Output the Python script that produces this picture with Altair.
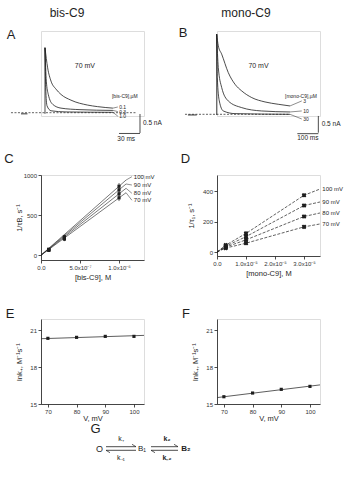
import altair as alt
import pandas as pd

FONT = "Liberation Sans"
INK = "#1e1e1e"
LAB = "#333333"

# ---------------- data ----------------
# Panel A: bis-C9 traces at 70 mV (time in ms, current in nA)
A_peak = 1.71
A_t_01 = [0, 3.8, 8.6, 15.7, 22.9, 37.1, 61.0, 75.0, 97.0]
A_i_01 = [1.71, 1.18, 0.83, 0.62, 0.48, 0.33, 0.20, 0.16, 0.12]
A_t_03 = [0, 1.9, 4.7, 11.0, 22.9, 50.0, 97.0]
A_i_03 = [1.71, 0.83, 0.48, 0.22, 0.12, 0.08, 0.06]
A_t_10 = [0, 1.0, 2.9, 8.6, 30.0, 97.0]
A_i_10 = [1.71, 0.66, 0.18, 0.05, 0.02, 0.01]
A_labels = ["0.1", "0.3", "1.0"]
A_label_i = [0.15, 0.03, -0.09]

# Panel B: mono-C9 traces at 70 mV
B_peak = 2.40
B_t_3 = [0, 7.6, 23.8, 55, 87, 119, 167, 230, 293, 349]
B_i_3 = [2.40, 2.05, 1.80, 1.25, 0.90, 0.70, 0.50, 0.37, 0.30, 0.25]
B_t_10 = [0, 7.6, 23.8, 55, 119, 214, 349]
B_i_10 = [2.40, 1.40, 0.80, 0.40, 0.20, 0.10, 0.07]
B_t_30 = [0, 2.9, 12.4, 31.4, 87, 349]
B_i_30 = [2.40, 1.10, 0.40, 0.10, 0.02, 0.00]
B_labels = ["3", "10", "30"]
B_label_i = [0.40, 0.10, -0.14]

# Panel C: 1/tau_B vs [bis-C9]
volts = [70, 80, 90, 100]
C_conc = [1e-7, 3e-7, 1e-6]
C_rate = {70: [60, 200, 715], 80: [65, 210, 765], 90: [70, 220, 815], 100: [75, 230, 860]}
C_err = [8, 25, 40]
C_fit_x = 1.09e-6
C_fit_end = {70: 779, 80: 834, 90: 888, 100: 937}
C_label_y = {70: 685, 80: 772, 90: 875, 100: 979}

# Panel D: 1/tau_1 vs [mono-C9]
D_conc = [3e-6, 1e-5, 3e-5]
D_rate = {70: [26, 58, 165], 80: [32, 80, 233], 90: [38, 101, 305], 100: [45, 122, 372]}
D_label_y = {70: 184, 80: 256, 90: 328, 100: 413}

# Panels E, F: ln k+ vs V
V = [70, 80, 90, 100]
E_lnk = [20.33, 20.41, 20.49, 20.49]
F_lnk = [15.59, 15.89, 16.19, 16.43]
fit_V = [67.6, 103.5]
E_fit = [20.30, 20.57]
F_fit = [15.52, 16.55]


# ---------------- helpers ----------------
def note(text, x, y, size=6.0, align="center", weight="normal", color=INK):
    return alt.Chart(alt.Data(values=[{"a": 0}])).mark_text(
        text=text, font=FONT, fontSize=size, align=align, baseline="middle",
        color=color, fontWeight=weight).encode(x=alt.value(x), y=alt.value(y))


def seg(x1, y1, x2, y2, w=0.8):
    return alt.Chart(alt.Data(values=[{"a": 0}])).mark_rule(
        color=INK, strokeWidth=w).encode(
        x=alt.value(x1), y=alt.value(y1), x2=alt.value(x2), y2=alt.value(y2))


def dtext(xe, ye, t, i, s, size=6.0, align="center"):
    return alt.Chart(pd.DataFrame({xe.shorthand.split(":")[0]: [t],
                                   ye.shorthand.split(":")[0]: [i], "s": [s]})).mark_text(
        font=FONT, fontSize=size, align=align, baseline="middle", color=INK).encode(
        x=xe, y=ye, text="s:N")


def axis(values, title, tx, ty, expr=None, angle=0):
    args = dict(values=values, title=title, titleX=tx, titleY=ty,
                titleAngle=angle, titleAlign="center", titleBaseline="middle",
                titleFont=FONT, titleFontSize=7.5, titleFontWeight="normal", titleColor=INK,
                labelFont=FONT, labelFontSize=6, labelColor=LAB, labelPadding=1.5,
                domainColor=INK, domainWidth=0.8, tickColor=INK, tickWidth=0.8,
                tickSize=3, grid=False, labelFlush=False, labelOverlap=False)
    if expr:
        args["labelExpr"] = expr
    return alt.Axis(**args)


def frame(ts, vals, label):
    return pd.DataFrame({"t": ts, "i": vals, "c": label, "k": list(range(len(ts)))})


PW = 103
PH = 85

# ---------------- Panel A ----------------
A_xdom = [-5.71, 141.43]
A_ydom = [-0.087, 2.15]
xA = alt.X("t:Q", scale=alt.Scale(domain=A_xdom, nice=False, zero=False), axis=None)
yA = alt.Y("i:Q", scale=alt.Scale(domain=A_ydom, nice=False, zero=False), axis=None)

A_tr = pd.concat([frame(A_t_01, A_i_01, "0.1"), frame(A_t_03, A_i_03, "0.3"),
                  frame(A_t_10, A_i_10, "1.0")])
A_end = pd.DataFrame({"t": [A_t_01[-1], A_t_03[-1], A_t_10[-1]],
                      "i": [A_i_01[-1], A_i_03[-1], A_i_10[-1]],
                      "t2": [104] * 3, "i2": A_label_i})
A_lab = pd.DataFrame({"t": [106] * 3, "i": A_label_i, "lab": A_labels})

A = alt.layer(
    alt.Chart(pd.DataFrame({"t": [-48.6, 130], "i": [0, 0]})).mark_line(
        color=INK, strokeWidth=0.7, strokeDash=[2, 1.5]).encode(x=xA, y=yA),
    alt.Chart(pd.DataFrame({"t": [-34.3, -25.0], "i": [-0.03, -0.03]})).mark_line(
        color=INK, strokeWidth=0.9).encode(x=xA, y=yA),
    alt.Chart(pd.DataFrame({"t": [0], "i": [-0.03], "i2": [A_peak]})).mark_rule(
        color=INK, strokeWidth=0.8).encode(x=xA, y=yA, y2="i2:Q"),
    alt.Chart(A_tr).mark_line(color=INK, strokeWidth=0.8, interpolate="monotone").encode(
        x=xA, y=yA, detail="c:N", order="k:Q"),
    alt.Chart(A_end).mark_rule(color=INK, strokeWidth=0.5).encode(
        x=xA, y=yA, x2="t2:Q", y2="i2:Q"),
    alt.Chart(A_lab).mark_text(font=FONT, fontSize=5, align="left", color=INK).encode(
        x=xA, y=yA, text="lab:N"),
    # scale bars: 0.5 nA and 30 ms
    alt.Chart(pd.DataFrame({"t": [135.7], "i": [-0.034], "i2": [-0.534]})).mark_rule(
        color=INK, strokeWidth=0.8).encode(x=xA, y=yA, y2="i2:Q"),
    alt.Chart(pd.DataFrame({"t": [105.7], "t2": [135.7], "i": [-0.547]})).mark_rule(
        color=INK, strokeWidth=0.8).encode(x=xA, x2="t2:Q", y=yA),
    dtext(xA, yA, 57, 1.23, "70 mV", 7),
    dtext(xA, yA, 114, 0.44, "[bis-C9],\u00b5M", 5),
    dtext(xA, yA, 140, -0.27, "0.5 nA", 6.5, "left"),
    dtext(xA, yA, 116, -0.69, "30 ms", 6.5),
    note("bis-C9", 26, -18, size=12),
    note("A", -30, 4, size=13),
).properties(width=PW, height=PH)

# ---------------- Panel B ----------------
B_xdom = [1.43, 491.9]
B_ydom = [-0.051, 2.494]
xB = alt.X("t:Q", scale=alt.Scale(domain=B_xdom, nice=False, zero=False), axis=None)
yB = alt.Y("i:Q", scale=alt.Scale(domain=B_ydom, nice=False, zero=False), axis=None)
B_tr = pd.concat([frame(B_t_3, B_i_3, "3"), frame(B_t_10, B_i_10, "10"),
                  frame(B_t_30, B_i_30, "30")])
B_end = pd.DataFrame({"t": [B_t_3[-1], B_t_10[-1], B_t_30[-1]],
                      "i": [B_i_3[-1], B_i_10[-1], B_i_30[-1]],
                      "t2": [405] * 3, "i2": B_label_i})
B_lab = pd.DataFrame({"t": [412] * 3, "i": B_label_i, "lab": B_labels})
B = alt.layer(
    alt.Chart(pd.DataFrame({"t": [-151, 349], "i": [0, 0]})).mark_line(
        color=INK, strokeWidth=0.7, strokeDash=[2, 1.5]).encode(x=xB, y=yB),
    alt.Chart(pd.DataFrame({"t": [-137, -95], "i": [-0.02, -0.02]})).mark_line(
        color=INK, strokeWidth=0.9).encode(x=xB, y=yB),
    alt.Chart(pd.DataFrame({"t": [0], "i": [-0.02], "i2": [B_peak]})).mark_rule(
        color=INK, strokeWidth=0.8).encode(x=xB, y=yB, y2="i2:Q"),
    alt.Chart(B_tr).mark_line(color=INK, strokeWidth=0.8, interpolate="monotone").encode(
        x=xB, y=yB, detail="c:N", order="k:Q"),
    alt.Chart(B_end).mark_rule(color=INK, strokeWidth=0.5).encode(
        x=xB, y=yB, x2="t2:Q", y2="i2:Q"),
    alt.Chart(B_lab).mark_text(font=FONT, fontSize=5, align="left", color=INK).encode(
        x=xB, y=yB, text="lab:N"),
    alt.Chart(pd.DataFrame({"t": [484], "i": [-0.05], "i2": [-0.55]})).mark_rule(
        color=INK, strokeWidth=0.8).encode(x=xB, y=yB, y2="i2:Q"),
    alt.Chart(pd.DataFrame({"t": [384], "t2": [484], "i": [-0.58]})).mark_rule(
        color=INK, strokeWidth=0.8).encode(x=xB, x2="t2:Q", y=yB),
    dtext(xB, yB, 199, 1.45, "70 mV", 7),
    dtext(xB, yB, 401, 0.55, "[mono-C9],\u00b5M", 5),
    dtext(xB, yB, 500, -0.30, "0.5 nA", 6.5, "left"),
    dtext(xB, yB, 434, -0.71, "100 ms", 6.5),
    note("mono-C9", 29, -18, size=12),
    note("B", -34, 2, size=13),
).properties(width=PW, height=PH)

# ---------------- Panel C ----------------
HC = 85
C_xdom = [0, 1.32e-6]
C_ydom = [-60, 1000]
xC = alt.X("c:Q", scale=alt.Scale(domain=C_xdom, nice=False, zero=False),
           axis=axis([0, 5e-7, 1e-6], "[bis-C9], M", PW / 2, 17,
                     expr="datum.value < 1e-9 ? '0.0' : (datum.value < 7e-7 ? '5.0x10\u207b\u2077' : '1.0x10\u207b\u2076')"))
yC = alt.Y("r:Q", scale=alt.Scale(domain=C_ydom, nice=False, zero=False),
           axis=axis([0, 500, 1000], "1/\u03c4B, s\u207b\u00b9", -22, HC / 2, angle=-90,
                     expr="format(datum.value, 'd')"))

C_pts = pd.DataFrame([{"v": v, "c": c, "r": C_rate[v][j]} for v in volts for j, c in enumerate(C_conc)])
C_bars = pd.DataFrame([{"v": v, "c": c, "r": C_rate[v][j] - C_err[j], "r2": C_rate[v][j] + C_err[j]}
                       for v in volts for j, c in enumerate(C_conc)])
C_lines = pd.DataFrame([{"v": v, "c": x, "r": r} for v in volts
                        for x, r in [(0, 0), (C_fit_x, C_fit_end[v])]])
C_lead = pd.DataFrame([{"v": v, "c": C_fit_x, "r": C_fit_end[v], "c2": 1.165e-6,
                        "r2": C_label_y[v]} for v in volts])
C_lab = pd.DataFrame([{"c": 1.19e-6, "r": C_label_y[v], "lab": f"{v} mV"} for v in volts])
C = alt.layer(
    alt.Chart(C_lines).mark_line(color=INK, strokeWidth=0.6).encode(x=xC, y=yC, detail="v:N"),
    alt.Chart(C_bars).mark_rule(color=INK, strokeWidth=0.7).encode(x=xC, y=yC, y2="r2:Q"),
    alt.Chart(C_pts).mark_point(shape="square", filled=True, size=10, color=INK, opacity=1).encode(x=xC, y=yC),
    alt.Chart(C_lead).mark_rule(color=INK, strokeWidth=0.5).encode(x=xC, y=yC, x2="c2:Q", y2="r2:Q"),
    alt.Chart(C_lab).mark_text(font=FONT, fontSize=6, align="left", color=INK).encode(
        x=xC, y=yC, text="lab:N"),
    note("C", -32, -16, size=13),
).properties(width=PW, height=HC)

# ---------------- Panel D ----------------
HD = 81
xD = alt.X("c:Q", scale=alt.Scale(domain=[0, 3.55e-5], nice=False, zero=False),
           axis=axis([0, 1e-5, 2e-5, 3e-5], "[mono-C9], M", PW / 2, 17,
                     expr="datum.value < 1e-9 ? '0.0' : format(datum.value * 1e5, '.1f') + 'x10\u207b\u2075'"))
yD = alt.Y("r:Q", scale=alt.Scale(domain=[-26, 505], nice=False, zero=False),
           axis=axis([0, 200, 400], "1/\u03c4\u2081, s\u207b\u00b9", -26, HD / 2, angle=-90))
D_pts = pd.DataFrame([{"v": v, "c": c, "r": D_rate[v][j]} for v in volts for j, c in enumerate(D_conc)])
D_lines = pd.DataFrame([{"v": v, "c": x, "r": r, "k": k} for v in volts
                        for k, (x, r) in enumerate([(0, 0)] + list(zip(D_conc, D_rate[v]))
                                                   + [(3.55e-5, D_label_y[v])])])
D_lab = pd.DataFrame([{"c": 3.63e-5, "r": D_label_y[v], "lab": f"{v} mV"} for v in volts])
D = alt.layer(
    alt.Chart(D_lines).mark_line(color=INK, strokeWidth=0.7, strokeDash=[3, 1.5]).encode(
        x=xD, y=yD, detail="v:N", order="k:Q"),
    alt.Chart(D_pts).mark_point(shape="square", filled=True, size=10, color=INK, opacity=1).encode(x=xD, y=yD),
    alt.Chart(D_pts).mark_point(shape="cross", filled=True, size=22, angle=45, color=INK, opacity=1).encode(x=xD, y=yD),
    alt.Chart(D_lab).mark_text(font=FONT, fontSize=6, align="left", color=INK).encode(x=xD, y=yD, text="lab:N"),
    note("D", -31.5, -16, size=13),
).properties(width=PW, height=HD)

# ---------------- Panels E, F ----------------
HE = 85


def lnk_panel(vals, fit, letter, extra=()):
    xE = alt.X("V:Q", scale=alt.Scale(domain=[67.6, 103.5], nice=False, zero=False),
               axis=axis([70, 80, 90, 100], "V, mV", PW / 2, 14))
    yE = alt.Y("k:Q", scale=alt.Scale(domain=[15, 21.9], nice=False, zero=False),
               axis=axis([15, 18, 21], "lnk\u208a, M\u207b\u00b9s\u207b\u00b9", -22, HE / 2, angle=-90))
    pts = pd.DataFrame({"V": V, "k": vals})
    ln = pd.DataFrame({"V": fit_V, "k": fit})
    return alt.layer(
        alt.Chart(ln).mark_line(color="#333333", strokeWidth=0.8).encode(x=xE, y=yE),
        alt.Chart(pts).mark_point(shape="square", filled=True, size=10, color=INK, opacity=1).encode(x=xE, y=yE),
        note(letter, -31, -5, size=13),
        *extra,
    ).properties(width=PW, height=HE)


# reaction scheme G (pixel positions relative to panel E)
G = [
    note("G", 54.5, 110, size=13),
    note("O", 58.5, 130, size=9),
    seg(65, 127.7, 95, 127.7), seg(95, 127.7, 91, 125.3, 0.7),
    seg(65, 131.3, 95, 131.3), seg(65, 131.3, 69, 133.7, 0.7),
    note("k\u208a", 80, 120, size=7),
    note("k\u208b\u2081", 80, 139, size=7),
    note("B\u2081", 101, 130, size=8),
    seg(110, 127.7, 137, 127.7), seg(137, 127.7, 133, 125.3, 0.7),
    seg(110, 131.3, 137, 131.3), seg(110, 131.3, 114, 133.7, 0.7),
    note("k\u2082", 126, 120, size=7, weight="bold"),
    note("k\u208b\u2082", 126, 139, size=7, weight="bold"),
    note("B\u2082", 145, 130, size=8, weight="bold"),
]
E = lnk_panel(E_lnk, E_fit, "E", G)
F = lnk_panel(F_lnk, F_fit, "F")

chart = alt.concat(A, B, C, D, E, F, columns=2,
                   spacing={"row": 59, "column": 73}, bounds="flush").properties(
    padding={"left": 3, "top": 6, "right": 0, "bottom": 0}
).configure_view(stroke=None).configure(font=FONT)

chart.save("out.html", embed_options={"renderer": "svg", "actions": False})
